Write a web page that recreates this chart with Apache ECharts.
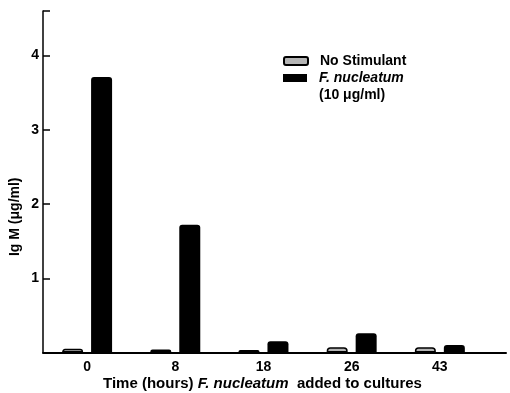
<!DOCTYPE html>
<html>
<head>
<meta charset="utf-8">
<script src="https://cdn.jsdelivr.net/npm/echarts@6/dist/echarts.min.js"></script>
<style>html,body{margin:0;padding:0;background:#fff;}#c{width:510px;height:393px;}</style>
</head>
<body>
<div id="c"></div>
<script>
var categories = ['0', '8', '18', '26', '43'];
var noStimulant = [0.05, 0.04, 0.035, 0.07, 0.07];
var fNucleatum = [3.71, 1.72, 0.15, 0.26, 0.10];
var yTicks = [1, 2, 3, 4];

function pairs(vals) { return vals.map(function (v, i) { return [i, v]; }); }

var FONT = 'Liberation Sans';
var chart = echarts.init(document.getElementById('c'), null, { renderer: 'canvas' });
chart.setOption({
  animation: false,
  backgroundColor: '#fff',
  grid: { left: 43, right: 4, top: 11, bottom: 40.5, containLabel: false, outerBoundsMode: 'none' },
  legend: [
    {
      data: ['No Stimulant'],
      left: 283, top: 54,
      padding: 0,
      itemWidth: 24, itemHeight: 8,
      icon: 'roundRect',
      textStyle: { fontFamily: FONT, fontWeight: 'bold', fontSize: 14, color: '#000', padding: [0, 0, 0, 7] }
    },
    {
      data: ['F. nucleatum'],
      left: 283, top: 71,
      padding: 0,
      itemWidth: 24, itemHeight: 8,
      icon: 'rect',
      formatter: function () { return '{i|F. nucleatum}\n{n|(10 \u03bcg/ml)}'; },
      textStyle: {
        fontFamily: FONT, fontSize: 14, color: '#000', padding: [17, 0, 0, 7],
        rich: {
          i: { fontFamily: FONT, fontStyle: 'italic', fontWeight: 'bold', fontSize: 14, lineHeight: 17 },
          n: { fontFamily: FONT, fontWeight: 'bold', fontSize: 14, lineHeight: 17 }
        }
      }
    }
  ],
  xAxis: {
    type: 'value',
    min: -0.5, max: 4.75, interval: 0.25,
    splitLine: { show: false },
    axisLine: { onZero: false, lineStyle: { color: '#000', width: 2 } },
    axisTick: { show: false },
    axisLabel: {
      margin: 8,
      fontFamily: FONT, fontWeight: 'bold', fontSize: 14, color: '#000',
      showMinLabel: true, showMaxLabel: false,
      formatter: function (v) {
        var r = Math.round(v);
        if (Math.abs(v - r) < 1e-6 && r >= 0 && r < categories.length) return categories[r];
        return '';
      }
    },
    name: '{n|Time (hours) }{i|F. nucleatum}{n|  added to cultures}',
    nameLocation: 'middle',
    nameGap: 24,
    nameMoveOverlap: false,
    nameTextStyle: {
      padding: [0, 24, 0, 0],
      rich: {
        n: { fontFamily: FONT, fontWeight: 'bold', fontSize: 15, color: '#000' },
        i: { fontFamily: FONT, fontWeight: 'bold', fontStyle: 'italic', fontSize: 15, color: '#000' }
      }
    }
  },
  yAxis: {
    type: 'value',
    min: 0, max: 4.6, interval: 1,
    splitLine: { show: false },
    axisLine: { show: true, onZero: false, lineStyle: { color: '#000', width: 1.5 } },
    axisTick: { show: true, inside: true, length: 7, lineStyle: { color: '#000', width: 1.5 } },
    axisLabel: {
      margin: 4,
      fontFamily: FONT, fontWeight: 'bold', fontSize: 14, color: '#000',
      formatter: function (v) { return yTicks.indexOf(v) >= 0 ? String(v) : ''; }
    },
    name: 'Ig M (\u03bcg/ml)',
    nameLocation: 'middle',
    nameGap: 21,
    nameMoveOverlap: false,
    nameTextStyle: { fontFamily: FONT, fontWeight: 'bold', fontSize: 14, color: '#000', padding: [0, 70, 0, 0] }
  },
  series: [
    {
      name: 'No Stimulant',
      type: 'bar',
      data: pairs(noStimulant),
      barWidth: 21,
      barGap: '38%',
      itemStyle: { color: '#b5b5b5', borderColor: '#000', borderWidth: 1.5, borderRadius: [3, 3, 0, 0] }
    },
    {
      name: 'F. nucleatum',
      type: 'bar',
      data: pairs(fNucleatum),
      barWidth: 21,
      barGap: '38%',
      itemStyle: { color: '#000', borderRadius: [3, 3, 0, 0] }
    }
  ]
});
</script>
</body>
</html>
